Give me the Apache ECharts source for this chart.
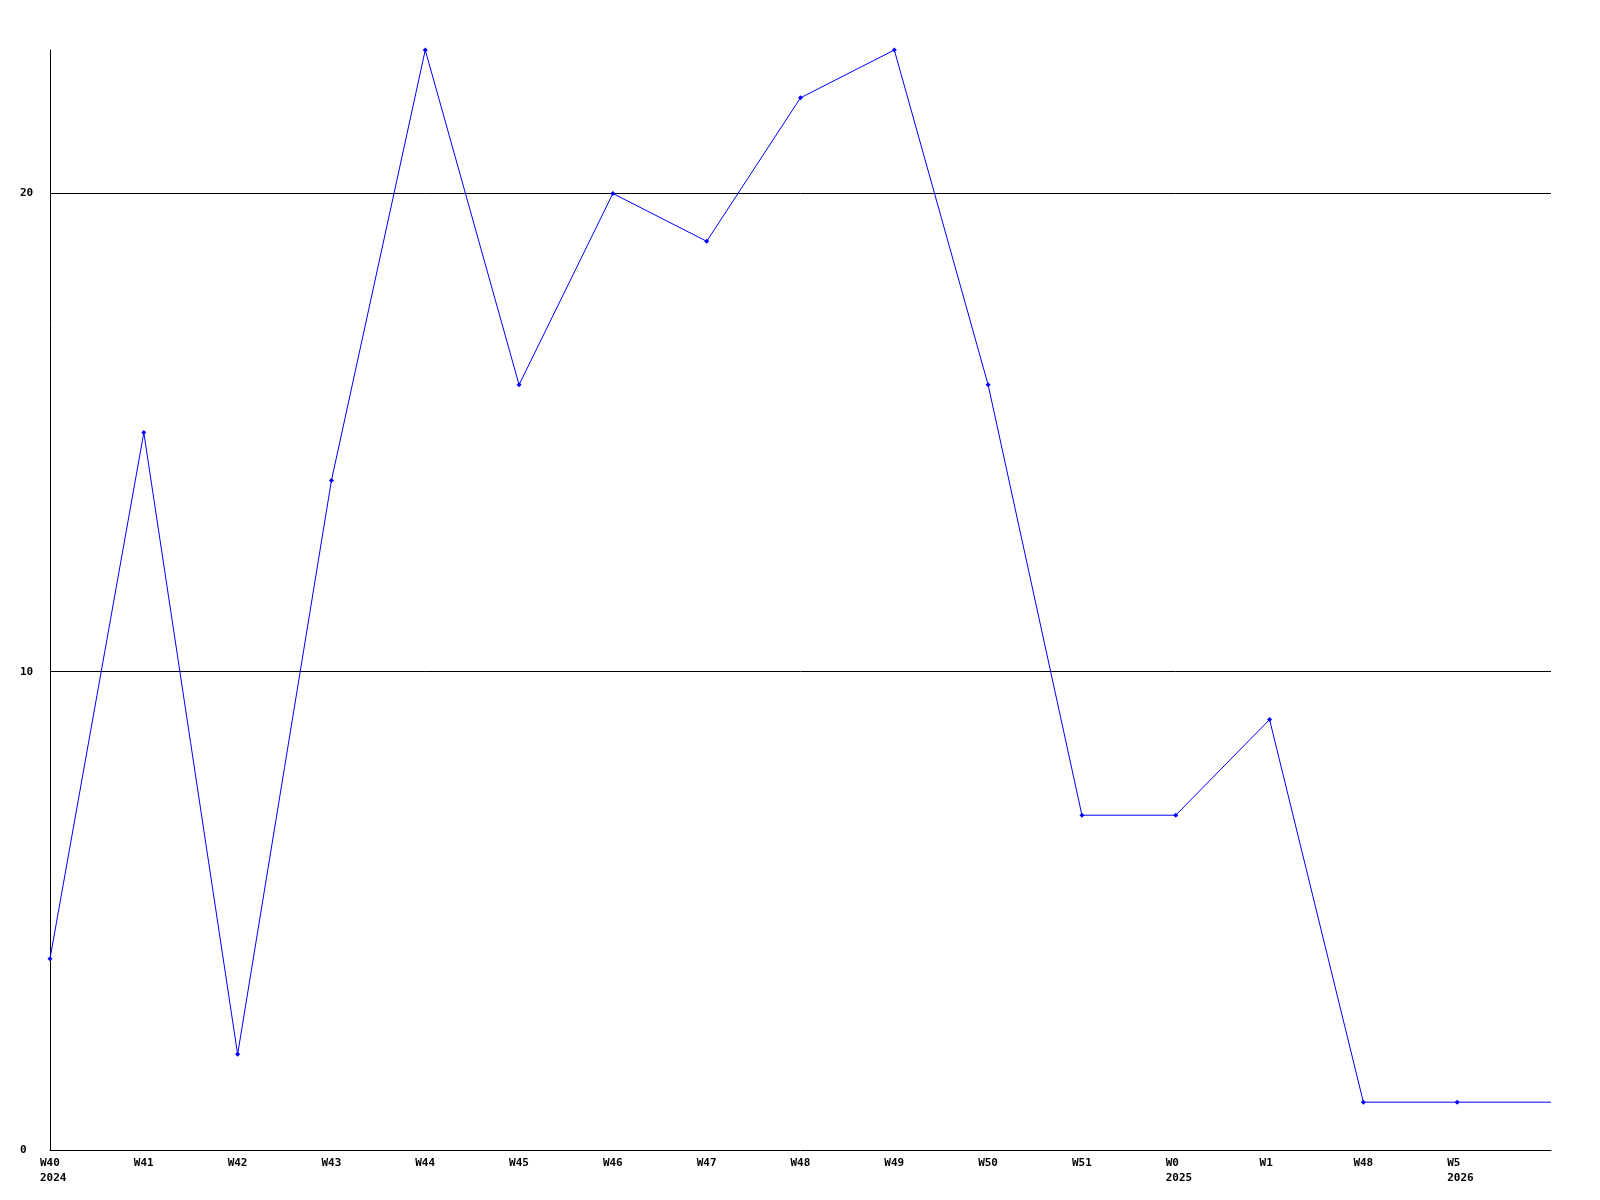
<!DOCTYPE html>
<html><head><meta charset="utf-8">
<script src="https://cdn.jsdelivr.net/npm/echarts@6/dist/echarts.min.js"></script>
<style>html,body{margin:0;padding:0;background:#fff}#c{width:1600px;height:1200px}</style>
</head><body><div id="c"></div>
<script>
const categories = ['W40\n2024','W41','W42','W43','W44','W45','W46','W47','W48','W49','W50','W51','W0\n2025','W1','W48','W5\n2026',''];
const values = [4,15,2,14,23,16,20,19,22,23,16,7,7,9,1,1,1];
const yTicks = [0,10,20];
const yMax = 23;

const font = {fontFamily:'DejaVu Sans Mono', fontWeight:'bold', fontSize:11, color:'#000'};
const chart = echarts.init(document.getElementById('c'), null, {renderer:'canvas'});
chart.setOption({
  animation:false,
  backgroundColor:'#fff',
  grid:[
    {left:50, right:49, top:50, bottom:50},
    {left:40, right:59, top:50, bottom:50}
  ],
  xAxis:[
    {type:'category', gridIndex:0, data:categories, boundaryGap:false,
     axisLine:{lineStyle:{color:'#000', width:1}}, axisTick:{show:false},
     axisLabel:{show:false}, splitLine:{show:false}},
    {type:'category', gridIndex:1, data:categories, boundaryGap:false,
     axisLine:{show:false}, axisTick:{show:false}, splitLine:{show:false},
     axisLabel:Object.assign({show:true, interval:0, align:'left', margin:6, lineHeight:15}, font)}
  ],
  yAxis:[
    {type:'value', gridIndex:0, min:0, max:yMax, interval:10,
     axisLine:{show:true, lineStyle:{color:'#000', width:1}}, axisTick:{show:false},
     splitLine:{show:true, showMaxLine:false, showMinLine:false, lineStyle:{color:'#000', width:1}},
     axisLabel:Object.assign({align:'left', margin:30, showMaxLabel:false,
       formatter:v => yTicks.includes(v) ? String(v) : ''}, font)},
    {type:'value', gridIndex:1, min:0, max:yMax, show:false}
  ],
  series:[{
    type:'line', xAxisIndex:0, yAxisIndex:0,
    data: values.map((v,i) => i === values.length-1 ? {value:v, symbol:'none'} : v),
    symbol:'diamond', symbolSize:5, showAllSymbol:true,
    lineStyle:{color:'#0000ff', width:1},
    itemStyle:{color:'#0000ff'},
    clip:false
  }]
});
</script></body></html>
